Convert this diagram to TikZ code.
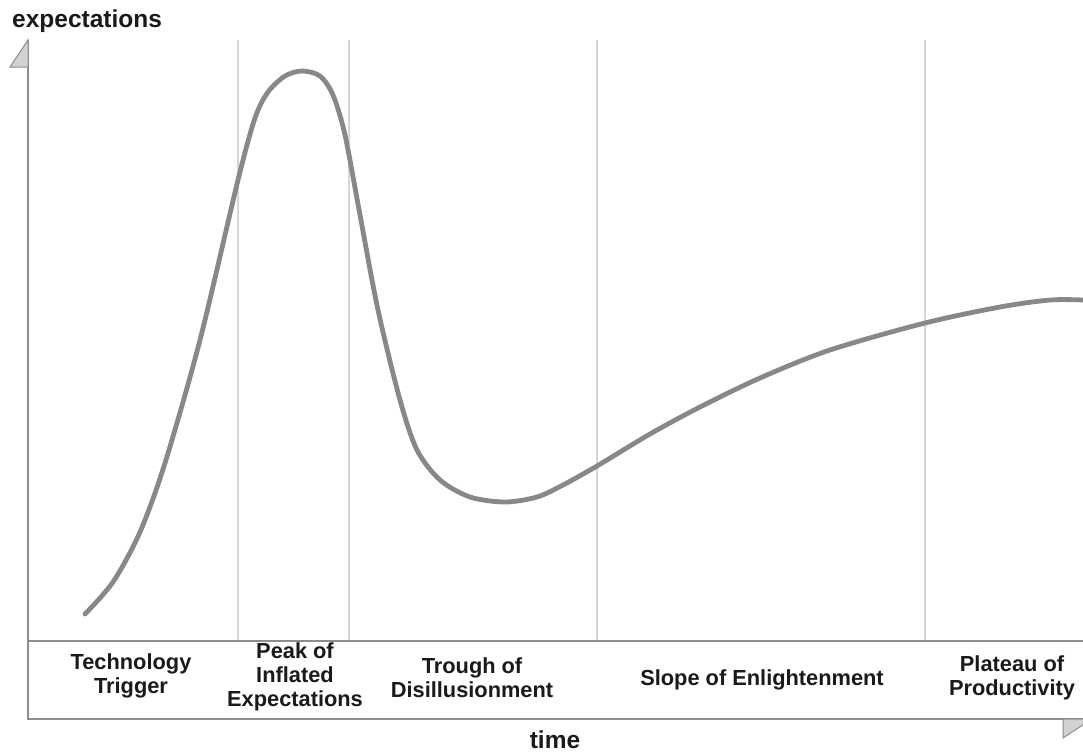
\documentclass[tikz,border=0pt]{standalone}
\usepackage{fontspec}
\setmainfont{Liberation Sans}
\definecolor{axisgray}{HTML}{8E8E8E}
\definecolor{sepgray}{HTML}{D6D6D6}
\definecolor{curvegray}{HTML}{888888}
\definecolor{trifill}{HTML}{D2D2D2}
\definecolor{txt}{HTML}{1A1A1A}
\begin{document}
\begin{tikzpicture}[x=1pt,y=-1pt,
  axisline/.style={draw=axisgray,line width=2pt},
  sepline/.style={draw=sepgray,line width=2.5pt},
  hype/.style={draw=curvegray,line width=4.8pt,line cap=round,line join=round},
  arrowtri/.style={fill=trifill,draw=axisgray,line width=1pt},
  phase/.style={align=center,text=txt,font=\fontsize{21.8}{24}\selectfont\bfseries,inner sep=0pt},
  axislabel/.style={text=txt,font=\fontsize{24.5}{28}\selectfont\bfseries,inner sep=0pt}]
\useasboundingbox[fill=white] (0,0) rectangle (1083,753);
% separators
\foreach \x in {238,349,597,925}{\draw[sepline] (\x,40) -- (\x,641);}
% axes
\coordinate (O) at (28,719);
\coordinate (Ytop) at (28,40);
\coordinate (Xend) at (1083,719);
\coordinate (Bl) at (28,641);
\coordinate (Br) at (1083,641);
\draw[axisline] (Ytop) -- (O) -- (Xend);
\draw[axisline] (Bl) -- (Br);
\draw[arrowtri] (28,40) -- (28,67) -- (10,67) -- cycle;
\draw[arrowtri] (1063,719) -- (1063,738) -- (1092,719) -- cycle;
% curve
\draw[hype] plot[smooth,tension=0.5] coordinates {
 (85,614) (113,582) (140,532) (165,463) (200,340) (238,180) (255,118) (268,92)
 (285,76) (302,71) (320,76) (333,95) (345,135) (360,215) (378,310) (400,400)
 (417,450) (440,480) (470,497) (505,502) (537,497) (563,485) (597,466) (650,434)
 (700,407) (760,378) (830,350) (925,323) (1000,307) (1050,300) (1083,300)};
% labels
\node[axislabel,anchor=base west] (ylab) at (12,27.5) {expectations};
\node[axislabel,anchor=base] (xlab) at (555,748) {time};
\node[phase] (p1) at (131,676) {Technology\\Trigger};
\node[phase] (p2) at (295,677) {Peak of\\Inflated\\Expectations};
\node[phase] (p3) at (472,678) {Trough of\\Disillusionment};
\node[phase] (p4) at (762,680) {Slope of Enlightenment};
\node[phase] (p5) at (1012,678) {Plateau of\\Productivity};
\end{tikzpicture}
\end{document}
